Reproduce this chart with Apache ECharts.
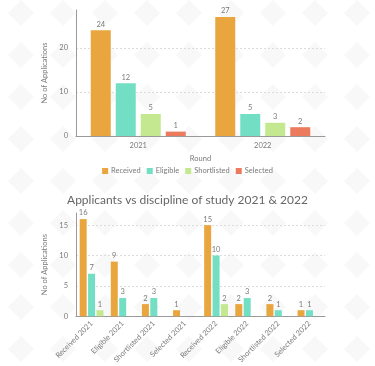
<!DOCTYPE html>
<html>
<head>
<meta charset="utf-8">
<script src="https://cdn.jsdelivr.net/npm/echarts@6/dist/echarts.min.js"></script>
<style>
html,body{margin:0;padding:0;}
body{
  width:375px;height:366px;overflow:hidden;background-color:#fff;
  background-image:url("data:image/svg+xml;utf8,<svg xmlns='http://www.w3.org/2000/svg' width='42' height='42'><path d='M21 8 L34 21 L21 34 L8 21 Z' fill='%23f8f8f8'/></svg>");
  background-position:0 -8px;
}
#c{width:375px;height:366px;}
</style>
</head>
<body>
<div id="c"></div>
<script>
// ---- Chart 1: applications by round ----
const rounds = ['2021', '2022'];
const stageNames = ['Received', 'Eligible', 'Shortlisted', 'Selected'];
const received = [24, 27];
const eligible = [12, 5];
const shortlisted = [5, 3];
const selected = [1, 2];

// ---- Chart 2: applicants vs discipline of study ----
const stageYearCats = ['Received 2021', 'Eligible 2021', 'Shortlisted 2021', 'Selected 2021',
                       'Received 2022', 'Eligible 2022', 'Shortlisted 2022', 'Selected 2022'];
const disciplineNames = ['Discipline 1', 'Discipline 2', 'Discipline 3'];
const discipline1 = [16, 9, 2, 1, 15, 2, 2, 1];
const discipline2 = [7, 3, 3, null, 10, 3, 1, 1];
const discipline3 = [1, null, null, null, 2, null, null, null];

const title1 = 'Applicants vs application type by year';
const title2 = 'Applicants vs discipline of study 2021 & 2022';
const yName = 'No of Applications';
const xName1 = 'Round';

const colors = ['#E9A63E', '#72DEC4', '#C3E88F', '#EC7B5E'];
const font = 'Lato, "Open Sans", sans-serif';
const txt = '#7a7a7a';

const chart = echarts.init(document.getElementById('c'), null, {renderer: 'canvas'});

const lbl = {show: true, position: 'top', distance: 2, fontSize: 7.5, color: txt, fontFamily: font};

function yAxis(gi, max) {
  return {
    type: 'value', gridIndex: gi, min: 0, max: max, interval: gi === 0 ? 10 : 5,
    name: yName, nameLocation: 'middle', nameGap: 16, nameRotate: 90,
    nameTextStyle: {fontSize: 7.5, color: txt, fontFamily: font},
    axisLine: {show: true, lineStyle: {color: '#9a9a9a', width: 1}},
    axisTick: {show: false},
    axisLabel: {fontSize: 7.5, color: txt, fontFamily: font, margin: 8, showMaxLabel: false},
    splitLine: {show: true, showMinLine: false, showMaxLine: false, lineStyle: {color: '#dcdcdc', type: [2, 2], width: 1}}
  };
}

const series = [];
[received, eligible, shortlisted, selected].forEach((d, i) => {
  series.push({
    name: stageNames[i], type: 'bar', xAxisIndex: 0, yAxisIndex: 0,
    data: d, barWidth: 20, barGap: '25%', itemStyle: {color: colors[i]}, label: lbl
  });
});
[discipline1, discipline2, discipline3].forEach((d, i) => {
  series.push({
    name: disciplineNames[i], type: 'bar', xAxisIndex: 1, yAxisIndex: 1,
    data: d, barWidth: 7, barGap: '20%', itemStyle: {color: colors[i]}, label: lbl
  });
});

chart.setOption({
  animation: false,
  backgroundColor: 'transparent',
  textStyle: {fontFamily: font},
  title: [
    {text: title1, left: 'center', top: -17, textStyle: {fontSize: 12, fontWeight: 'normal', color: '#666', fontFamily: font}},
    {text: title2, left: 'center', top: 189, textStyle: {fontSize: 12, fontWeight: 'normal', color: '#666', fontFamily: font}}
  ],
  legend: {
    data: stageNames, top: 162, left: 'center', icon: 'rect', itemWidth: 6, itemHeight: 6, itemGap: 6,
    textStyle: {fontSize: 7.5, color: txt, fontFamily: font, padding: [0, 0, 0, -2]}
  },
  grid: [
    {left: 76, right: 50, top: 10, bottom: 230},
    {left: 76, right: 50, top: 213, bottom: 44}
  ],
  xAxis: [
    {
      type: 'category', gridIndex: 0, data: rounds,
      name: xName1, nameLocation: 'middle', nameGap: 19,
      nameTextStyle: {fontSize: 7.5, color: txt, fontFamily: font},
      axisLine: {lineStyle: {color: '#9a9a9a'}}, axisTick: {show: false},
      axisLabel: {fontSize: 7.5, color: txt, fontFamily: font, margin: 6}
    },
    {
      type: 'category', gridIndex: 1, data: stageYearCats,
      axisLine: {lineStyle: {color: '#9a9a9a'}}, axisTick: {show: false},
      axisLabel: {fontSize: 7.5, color: txt, fontFamily: font, rotate: 45, margin: 6, interval: 0}
    }
  ],
  yAxis: [yAxis(0, 28.6), yAxis(1, 17)],
  series: series
});
</script>
</body>
</html>
